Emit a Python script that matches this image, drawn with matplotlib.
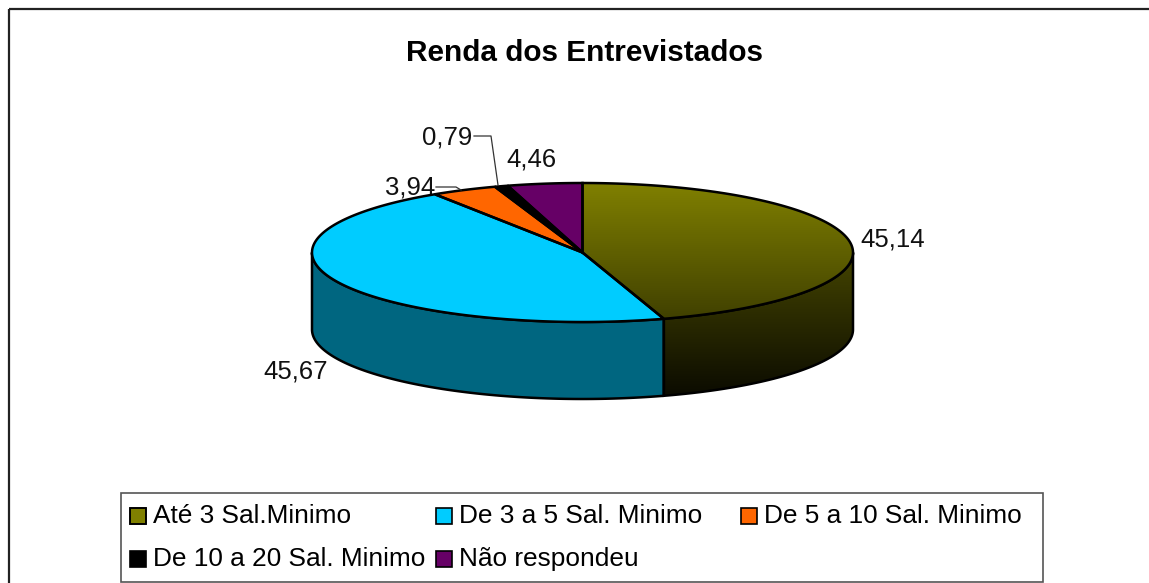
import numpy as np
import matplotlib
matplotlib.use("Agg")
import matplotlib.pyplot as plt
from matplotlib.colors import LinearSegmentedColormap
from matplotlib.patches import Polygon, Rectangle

plt.rcParams['font.family'] = ['Liberation Sans', 'DejaVu Sans']

title = "Renda dos Entrevistados"
categories = ["Até 3 Sal.Minimo", "De 3 a 5 Sal. Minimo", "De 5 a 10 Sal. Minimo",
              "De 10 a 20 Sal. Minimo", "Não respondeu"]
values = [45.14, 45.67, 3.94, 0.79, 4.46]
value_labels = ["45,14", "45,67", "3,94", "0,79", "4,46"]
top_colors = ["#808000", "#00CCFF", "#FF6600", "#000000", "#660066"]
side_colors = ["#404000", "#006680", "#803300", "#000000", "#330033"]

# pie geometry, in pixels of the picture
cx, cy, rx, ry, depth = 582.5, 252.5, 270.5, 69.5, 77


def rim(a0, a1, n=200):
    # angles clockwise from 12 o'clock, in degrees
    t = np.radians(np.linspace(a0, a1, n))
    return cx + rx * np.sin(t), cy - ry * np.cos(t)


def gradient(ax, patch, y0, y1, c0, c1):
    cmap = LinearSegmentedColormap.from_list("g", [c0, c1])
    im = ax.imshow(np.linspace(0, 1, 256).reshape(-1, 1), cmap=cmap, aspect="auto",
                   extent=(cx - rx, cx + rx, y1, y0), zorder=patch.get_zorder())
    im.set_clip_path(patch)


fig = plt.figure(figsize=(11.49, 5.83), dpi=100)
ax = fig.add_axes([0, 0, 1, 1])
ax.set_xlim(0, 1149)
ax.set_ylim(583, 0)
ax.axis("off")

# outer frame, runs off the right and bottom of the picture
ax.add_patch(Rectangle((8.5, 9), 1200, 600, fill=False, ec="#222222", lw=1.6, zorder=1))

ax.text(584, 53, title, ha="center", va="center", fontsize=21.4, fontweight="bold")

edges = np.concatenate([[0], np.cumsum(values)]) / np.sum(values) * 360

# side walls, only the front half of the disc shows
for i in range(len(values)):
    a0, a1 = max(edges[i], 90), min(edges[i + 1], 270)
    if a0 >= a1:
        continue
    x, y = rim(a0, a1)
    pts = np.vstack([np.c_[x, y], np.c_[x[::-1], y[::-1] + depth]])
    if i == 0:
        p = Polygon(pts, closed=True, fc="none", ec="none", zorder=2)
        ax.add_patch(p)
        gradient(ax, p, cy, cy + ry + depth, "#454500", "#0A0A00")
    else:
        ax.add_patch(Polygon(pts, closed=True, fc=side_colors[i], ec="none", zorder=2))
    ax.add_patch(Polygon(pts, closed=True, fill=False, ec="black", lw=1.8, zorder=3))

# top face
for i in range(len(values)):
    x, y = rim(edges[i], edges[i + 1])
    pts = np.vstack([[cx, cy], np.c_[x, y]])
    if i == 0:
        p = Polygon(pts, closed=True, fc="none", ec="none", zorder=4)
        ax.add_patch(p)
        gradient(ax, p, cy - ry, cy + ry, "#808000", "#3F3F00")
    else:
        ax.add_patch(Polygon(pts, closed=True, fc=top_colors[i], ec="none", zorder=4))
    ax.add_patch(Polygon(pts, closed=True, fill=False, ec="black", lw=1.8, zorder=5))

ax.set_xlim(0, 1149)
ax.set_ylim(583, 0)

# value labels
label_pos = [(893, 239), (296, 371), (410, 188), (447, 137), (531, 159)]
for txt, (lx, ly) in zip(value_labels, label_pos):
    ax.text(lx, ly, txt, ha="center", va="center", fontsize=18.5, color="#111111")

# leader lines
ax.plot([474, 491, 498], [136, 136, 185], color="#333333", lw=0.9, zorder=6)
ax.plot([436, 456, 461], [187, 187, 190], color="#333333", lw=0.9, zorder=6)

# legend
ax.add_patch(Rectangle((121, 493), 922, 89, fc="white", ec="#555555", lw=1.2, zorder=1))
legend_pos = [(130, 516), (436, 516), (741, 516), (130, 559), (436, 559)]
for i, (name, (px, py)) in enumerate(zip(categories, legend_pos)):
    sq = Rectangle((px, py - 8), 16, 16, fc=top_colors[i], ec="black", lw=1.2, zorder=3)
    ax.add_patch(sq)
    if i == 0:
        gradient(ax, sq, py - 8, py + 8, "#808000", "#3F3F00")
        ax.add_patch(Rectangle((px, py - 8), 16, 16, fill=False, ec="black", lw=1.2, zorder=4))
    ax.text(px + 23, py, name, ha="left", va="center", fontsize=18.9, color="black")

ax.set_xlim(0, 1149)
ax.set_ylim(583, 0)
fig.savefig("out.png", dpi=100)
